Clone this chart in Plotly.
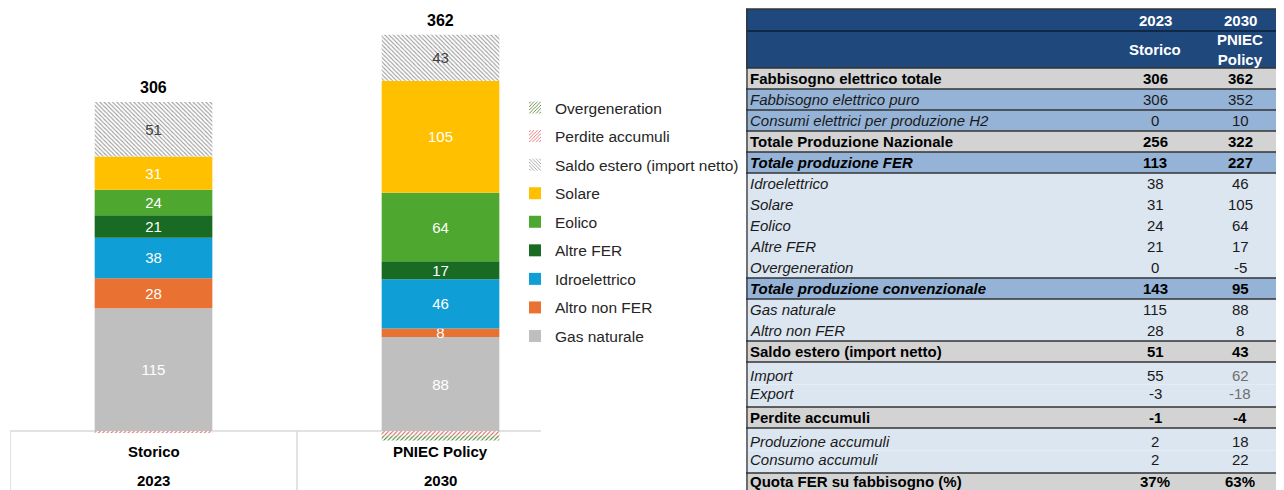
import plotly.graph_objects as go

# ---------------- data ----------------
categories = ["Storico", "PNIEC Policy"]
years = ["2023", "2030"]

gas_naturale = [115, 88]
altro_non_fer = [28, 8]
idroelettrico = [38, 46]
altre_fer = [21, 17]
eolico = [24, 64]
solare = [31, 105]
saldo_estero = [51, 43]
perdite_accumuli = [-1, -4]
overgeneration = [0, -5]
fabbisogno_totale = [306, 362]

table_labels = [
    "Fabbisogno elettrico totale", "Fabbisogno elettrico puro",
    "Consumi elettrici per produzione H2", "Totale Produzione Nazionale",
    "Totale produzione FER", "Idroelettrico", "Solare", "Eolico", "Altre FER",
    "Overgeneration", "Totale produzione convenzionale", "Gas naturale",
    "Altro non FER", "Saldo estero (import netto)", "Import", "Export",
    "Perdite accumuli", "Produzione accumuli", "Consumo accumuli",
    "Quota FER su fabbisogno (%)",
]
table_2023 = ["306", "306", "0", "256", "113", "38", "31", "24", "21", "0", "143",
              "115", "28", "51", "55", "-3", "-1", "2", "2", "37%"]
table_2030 = ["362", "352", "10", "322", "227", "46", "105", "64", "17", "-5", "95",
              "88", "8", "43", "62", "-18", "-4", "18", "22", "63%"]
table_header_1 = ["2023", "2030"]
table_header_2 = ["Storico", "PNIEC<br>Policy"]

# row styles (kept separate from the values)
row_kind = ["total", "sub", "sub", "total", "subtotal", "detail", "detail", "detail",
            "detail", "detail", "subtotal", "detail", "detail", "total", "pair", "pair",
            "total", "pair", "pair", "total"]
muted_2030 = {"Import", "Export"}

# ---------------- styling ----------------
OFF = 8                      # page body margin of the browser
W, H = 1284 - OFF, 490 - OFF
FONT = "Liberation Sans, Arial, sans-serif"
TXT = "#262626"
FS = 15

series = [
    ("Gas naturale", gas_naturale, "#BFBFBF", None),
    ("Altro non FER", altro_non_fer, "#E97132", None),
    ("Idroelettrico", idroelettrico, "#0F9ED5", None),
    ("Altre FER", altre_fer, "#196B24", None),
    ("Eolico", eolico, "#4EA72E", None),
    ("Solare", solare, "#FFC000", None),
    ("Saldo estero (import netto)", saldo_estero, "white", ("\\", "#9A9A9A")),
    ("Perdite accumuli", perdite_accumuli, "white", ("/", "#E06666")),
    ("Overgeneration", overgeneration, "white", ("/", "#548235")),
]

fig = go.Figure()
n = len(series)
for k, (name, vals, color, pat) in enumerate(series):
    marker = dict(color=color, line=dict(width=0))
    if pat is not None:
        marker["pattern"] = dict(shape=pat[0], fgcolor=pat[1], bgcolor="white",
                                 size=3, solidity=0.35, fillmode="replace")
    fig.add_trace(go.Bar(
        x=categories, y=vals, name=name, legendgroup=name, legendrank=n - k,
        marker=marker,
        text=[str(v) if v > 0 else "" for v in vals],
        textposition="inside", insidetextanchor="middle", textangle=0,
        textfont=dict(family=FONT, size=FS,
                      color="#404040" if pat is not None else "white"),
        hoverinfo="skip",
    ))

# dummy trace to anchor the table subplot
fig.add_trace(go.Scatter(x=[None], y=[None], xaxis="x2", yaxis="y2",
                         showlegend=False, hoverinfo="skip"))

# ---------------- bar chart axes ----------------
SCALE = 1.068                # px per unit
BASE_PX = 431 - OFF          # baseline pixel row
Y_MAX = BASE_PX / SCALE
Y_MIN = -(H - BASE_PX) / SCALE
X_L, X_R = 10 - OFF, 584 - OFF

shapes = []
annotations = []

pos_series = [gas_naturale, altro_non_fer, idroelettrico, altre_fer, eolico, solare, saldo_estero]
stack_top = [sum(s[i] for s in pos_series) for i in range(len(categories))]
for i, cat in enumerate(categories):
    annotations.append(dict(x=cat, y=stack_top[i], xref="x", yref="y",
                            text=f"<b>{fabbisogno_totale[i]}</b>", showarrow=False,
                            yanchor="bottom", yshift=4,
                            font=dict(family=FONT, size=16, color="black")))
    annotations.append(dict(x=cat, y=1 - (451 - OFF) / H, xref="x", yref="paper",
                            text=f"<b>{cat}</b>", showarrow=False, yanchor="middle",
                            font=dict(family=FONT, size=FS, color="black")))
    annotations.append(dict(x=cat, y=1 - (480 - OFF) / H, xref="x", yref="paper",
                            text=f"<b>{years[i]}</b>", showarrow=False, yanchor="middle",
                            font=dict(family=FONT, size=FS, color="black")))

# category table lines under the bars
grid_col = "#D9D9D9"
shapes.append(dict(type="line", xref="x", yref="y", x0=-0.5, x1=1.35, y0=0, y1=0,
                   line=dict(color=grid_col, width=1.5), layer="below"))
for xv in (-0.5, 0.5):
    shapes.append(dict(type="line", xref="x", yref="y", x0=xv, x1=xv, y0=0, y1=Y_MIN,
                       line=dict(color=grid_col, width=1.5), layer="below"))

# ---------------- right-hand table ----------------
TX0 = 746 - OFF
T_W = W - TX0
COL_C = [409, 494]
LABEL_X = 2
TOP = 9 - OFF
HEAD1, HEAD2 = 22, 37
ROW_H, PAIR_H = 21, 22.5
NAVY = "#1F497D"
GRAY = "#D3D3D3"
MID = "#95B3D7"
LIGHT = "#DCE6F1"
DARK = "#333333"

fills = {"total": GRAY, "sub": MID, "subtotal": MID, "detail": LIGHT, "pair": LIGHT}
light_kinds = {"detail", "pair"}


def hline(y, color=DARK, width=1.3):
    shapes.append(dict(type="line", xref="x2", yref="y2", x0=0, x1=T_W - 1, y0=y, y1=y,
                       line=dict(color=color, width=width), layer="above"))


def tcell(x, y, text, anchor, color, yshift=0):
    annotations.append(dict(x=x, y=y, xref="x2", yref="y2", text=text, showarrow=False,
                            xanchor=anchor, yanchor="middle", yshift=yshift,
                            font=dict(family=FONT, size=FS, color=color)))


# header
shapes.append(dict(type="rect", xref="x2", yref="y2", x0=0, x1=T_W - 1, y0=TOP,
                   y1=TOP + HEAD1 + HEAD2, fillcolor=NAVY, line=dict(width=0), layer="below"))
for j in range(2):
    tcell(COL_C[j], TOP + HEAD1 / 2, f"<b>{table_header_1[j]}</b>", "center", "white")
    tcell(COL_C[j], TOP + HEAD1 + HEAD2 / 2, f"<b>{table_header_2[j]}</b>", "center", "white")
hline(TOP)
hline(TOP + HEAD1, color="#0B1E36")

y = TOP + HEAD1 + HEAD2
prev = "header"
pair_pos = 0
last = len(table_labels) - 1
for i, lab in enumerate(table_labels):
    kind = row_kind[i]
    h = PAIR_H if kind == "pair" else ROW_H
    shapes.append(dict(type="rect", xref="x2", yref="y2", x0=0, x1=T_W - 1, y0=y, y1=y + h,
                       fillcolor=fills[kind], line=dict(width=0), layer="below"))
    if not (kind in light_kinds and prev in light_kinds):
        hline(y)
    if kind == "pair":
        shift = -2.25 if pair_pos == 0 else 2.25   # pull lines toward the block centre
        pair_pos = 1 - pair_pos
    else:
        shift = 0
        pair_pos = 0
    if i == last:
        shift = 2          # keep the bottom row text inside the page
    bold = kind in ("total", "subtotal")
    italic = kind != "total"
    ltxt = lab
    if italic:
        ltxt = f"<i>{ltxt}</i>"
    if bold:
        ltxt = f"<b>{ltxt}</b>"
    col = "black" if bold else "#1A1A1A"
    tcell(LABEL_X, y + h / 2, ltxt, "left", col, yshift=shift)
    for j, vals in enumerate((table_2023, table_2030)):
        v = vals[i]
        vtxt = f"<b>{v}</b>" if bold else v
        vcol = "#6E6E6E" if (j == 1 and lab in muted_2030) else col
        tcell(COL_C[j], y + h / 2, vtxt, "center", vcol, yshift=shift)
    y += h
    prev = kind

for xv in (1, T_W - 1.5):
    shapes.append(dict(type="line", xref="x2", yref="y2", x0=xv, x1=xv, y0=TOP, y1=H,
                       line=dict(color=DARK, width=1.3), layer="above"))

fig.update_layout(
    width=W, height=H, margin=dict(l=0, r=0, t=0, b=0),
    paper_bgcolor="white", plot_bgcolor="white",
    barmode="relative", bargap=0.59,
    font=dict(family=FONT, size=FS, color=TXT),
    uniformtext=dict(minsize=FS, mode="show"),
    xaxis=dict(domain=[X_L / W, X_R / W], range=[-0.5, 1.5], showticklabels=False,
               showgrid=False, zeroline=False, showline=False, ticks=""),
    yaxis=dict(domain=[0, 1], range=[Y_MIN, Y_MAX], visible=False),
    xaxis2=dict(domain=[TX0 / W, 1], range=[0, T_W], anchor="y2", visible=False),
    yaxis2=dict(domain=[0, 1], range=[H, 0], anchor="x2", visible=False),
    legend=dict(x=(515 - OFF) / W, xanchor="left", y=1 - (91 - OFF) / H, yanchor="top",
                traceorder="grouped", tracegroupgap=5.4,
                font=dict(family=FONT, size=15.5, color=TXT), bgcolor="rgba(0,0,0,0)"),
    shapes=shapes, annotations=annotations,
)

fig.write_html("out.html")
